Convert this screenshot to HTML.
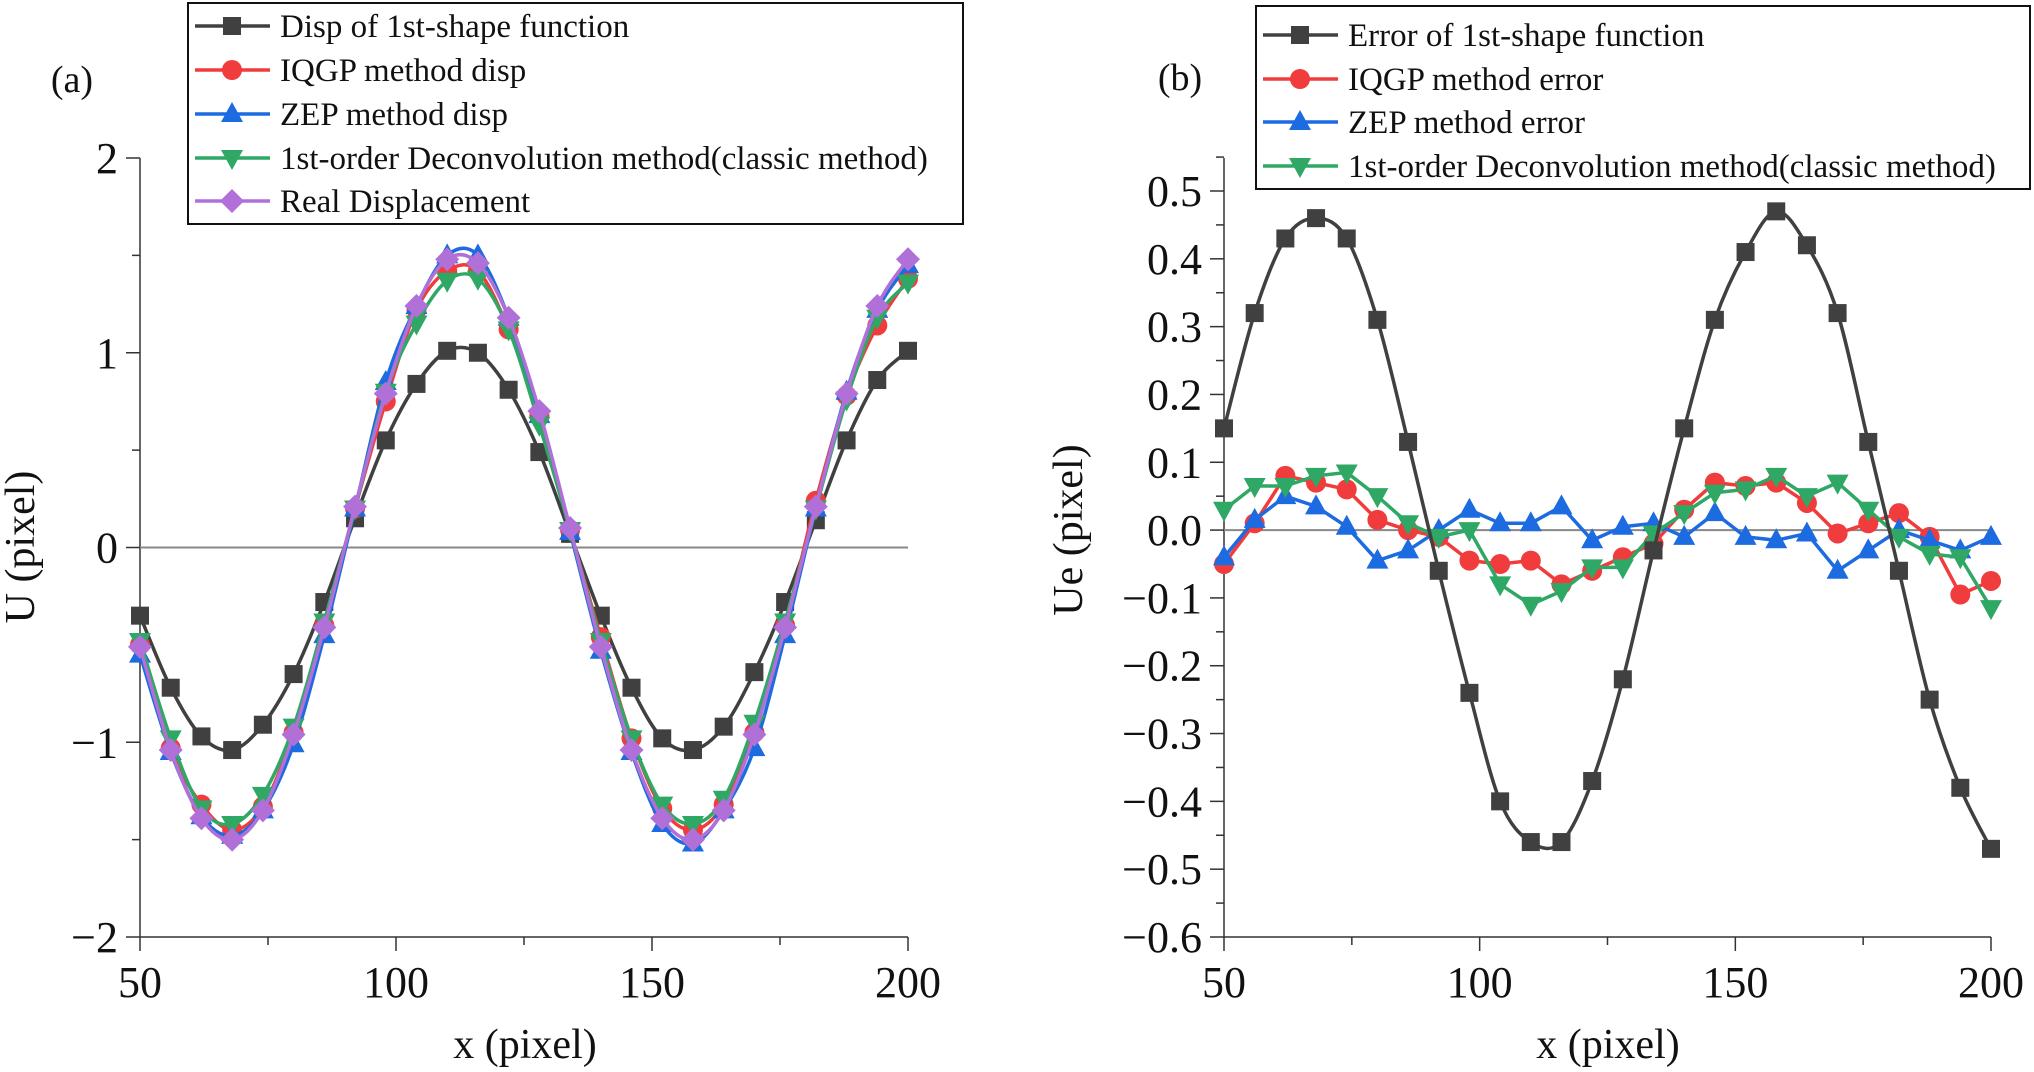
<!DOCTYPE html>
<html><head><meta charset="utf-8"><style>
html,body{margin:0;padding:0;background:#fff;}
svg{display:block;font-family:"Liberation Serif",serif;}
text{font-family:"Liberation Serif",serif;}
</style></head><body>
<svg id="chart" width="2034" height="1072" viewBox="0 0 2034 1072" xmlns="http://www.w3.org/2000/svg"></svg>
<script>
const xs = [50,56,62,68,74,80,86,92,98,104,110,116,122,128,134,140,146,152,158,164,170,176,182,188,194,200];
// Panel (a)
const dispShape = [-0.35,-0.72,-0.97,-1.04,-0.91,-0.65,-0.28,0.15,0.55,0.84,1.01,1.00,0.81,0.49,0.07,-0.35,-0.72,-0.98,-1.04,-0.92,-0.64,-0.28,0.14,0.55,0.86,1.01];
const dispIQGP = [-0.50,-1.03,-1.32,-1.45,-1.33,-0.95,-0.40,0.20,0.75,1.22,1.42,1.42,1.12,0.68,0.09,-0.46,-0.98,-1.34,-1.45,-1.32,-0.95,-0.40,0.24,0.78,1.14,1.38];
const dispZEP = [-0.55,-1.05,-1.38,-1.48,-1.35,-1.01,-0.45,0.20,0.85,1.24,1.50,1.50,1.18,0.68,0.08,-0.53,-1.05,-1.42,-1.52,-1.35,-1.03,-0.45,0.20,0.80,1.22,1.45];
const dispDeconv = [-0.48,-0.98,-1.34,-1.42,-1.27,-0.92,-0.38,0.20,0.80,1.15,1.37,1.38,1.12,0.63,0.09,-0.48,-0.98,-1.32,-1.42,-1.29,-0.90,-0.38,0.20,0.76,1.18,1.36];
const dispReal = [-0.51,-1.04,-1.39,-1.50,-1.35,-0.96,-0.41,0.21,0.79,1.24,1.48,1.46,1.18,0.70,0.10,-0.51,-1.04,-1.39,-1.50,-1.35,-0.96,-0.41,0.21,0.79,1.24,1.48];
// Panel (b)
const errShape = [0.15,0.32,0.43,0.46,0.43,0.31,0.13,-0.06,-0.24,-0.40,-0.46,-0.46,-0.37,-0.22,-0.03,0.15,0.31,0.41,0.47,0.42,0.32,0.13,-0.06,-0.25,-0.38,-0.47];
const errIQGP = [-0.05,0.01,0.08,0.07,0.06,0.015,0.0,-0.01,-0.045,-0.05,-0.045,-0.08,-0.06,-0.04,-0.02,0.03,0.07,0.065,0.07,0.04,-0.005,0.01,0.025,-0.01,-0.095,-0.075];
const errZEP = [-0.04,0.015,0.05,0.035,0.005,-0.045,-0.03,0.0,0.03,0.01,0.01,0.035,-0.015,0.005,0.01,-0.01,0.025,-0.01,-0.015,-0.005,-0.06,-0.03,0.0,-0.015,-0.03,-0.01];
const errDeconv = [0.03,0.065,0.065,0.08,0.085,0.05,0.01,-0.01,0.0,-0.08,-0.11,-0.09,-0.055,-0.055,-0.005,0.025,0.055,0.06,0.08,0.05,0.07,0.03,-0.01,-0.035,-0.04,-0.115];
const xTicks = [50,100,150,200];
const yTicksA = [-2,-1,0,1,2];
const yTicksB = [0.5,0.4,0.3,0.2,0.1,0.0,-0.1,-0.2,-0.3,-0.4,-0.5,-0.6];
const yTickLabelsB = ["0.5","0.4","0.3","0.2","0.1","0.0","\u22120.1","\u22120.2","\u22120.3","\u22120.4","\u22120.5","\u22120.6"];

const C = {k:'#404040',r:'#f03c3c',b:'#1c6be0',g:'#2fa865',p:'#b070d8'};
const FF = '"Liberation Serif", serif';
const svg = document.getElementById('chart');
const NS = 'http://www.w3.org/2000/svg';
function el(tag, attrs, parent){const e=document.createElementNS(NS,tag);for(const k in attrs)e.setAttribute(k,attrs[k]);if(tag==='text')e.setAttribute('font-family',FF);(parent||svg).appendChild(e);return e;}
function lin(d0,d1,r0,r1){return v=>r0+(v-d0)*(r1-r0)/(d1-d0);}
function smooth(pts){let d='M'+pts[0][0]+','+pts[0][1];for(let i=0;i<pts.length-1;i++){const p0=pts[Math.max(0,i-1)],p1=pts[i],p2=pts[i+1],p3=pts[Math.min(pts.length-1,i+2)];const c1=[p1[0]+(p2[0]-p0[0])/6,p1[1]+(p2[1]-p0[1])/6],c2=[p2[0]-(p3[0]-p1[0])/6,p2[1]-(p3[1]-p1[1])/6];d+=' C'+c1+' '+c2+' '+p2;}return d;}
function marker(g,type,x,y,col){
  let m;
  if(type==='sq') m=el('rect',{x:x-9,y:y-9,width:18,height:18,fill:col},g);
  else if(type==='ci') m=el('circle',{cx:x,cy:y,r:10,fill:col},g);
  else if(type==='up') m=el('polygon',{points:`${x},${y-12} ${x+11},${y+8} ${x-11},${y+8}`,fill:col},g);
  else if(type==='dn') m=el('polygon',{points:`${x},${y+12} ${x+11},${y-8} ${x-11},${y-8}`,fill:col},g);
  else m=el('polygon',{points:`${x},${y-12} ${x+12},${y} ${x},${y+12} ${x-12},${y}`,fill:col},g);
  
  
  return m;
}
function series(name,X,Y,vals,col,type,sm){
  const g=el('g',{});
  
  
  const pts=xs.map((x,i)=>[X(x),Y(vals[i])]);
  const p=el('path',{d:sm?smooth(pts):'M'+pts.map(q=>q.join(',')).join(' L'),fill:'none',stroke:col,'stroke-width':3.5,'stroke-linejoin':'round'},g);
  
  
  pts.forEach(q=>marker(g,type,q[0],q[1],col));
}
function axes(X,Y,x0,x1,yTop,yBot,yt,ytl,ymin,ymax,minorStep,prefix){
  const g=el('g',{stroke:'#333','stroke-width':1.5,fill:'none'});
  
  
  el('line',{x1:x0,y1:yTop,x2:x0,y2:yBot},g);
  el('line',{x1:x0,y1:yBot,x2:x1,y2:yBot},g);
  for(let v=50;v<=200;v+=25){const big=v%50===0;el('line',{x1:X(v),y1:yBot,x2:X(v),y2:yBot+(big?14:8)},g);}
  for(let v=ymin;v<=ymax+1e-9;v+=minorStep){const big=yt.some(t=>Math.abs(t-v)<1e-6);el('line',{x1:x0,y1:Y(v),x2:x0-(big?14:8),y2:Y(v)},g);}
  xTicks.forEach(v=>{const t=el('text',{x:X(v),y:yBot+60,'font-size':44,'text-anchor':'middle',fill:'#111'});t.textContent=v;});
  yt.forEach((v,i)=>{const t=el('text',{x:x0-22,y:Y(v)+15,'font-size':44,'text-anchor':'end',fill:'#111'});t.textContent=ytl[i];});
  const z=el('line',{x1:x0,y1:Y(0),x2:x1,y2:Y(0),stroke:'#888','stroke-width':2});
  
  
}
function legend(x,y,w,h,rowY,items,prefix){
  const g=el('g',{});
  
  
  el('rect',{x:x,y:y,width:w,height:h,fill:'#fff',stroke:'#111','stroke-width':2},g);
  items.forEach((it,i)=>{
    const yy=rowY[i];
    el('line',{x1:x+7,y1:yy,x2:x+82,y2:yy,stroke:it[1],'stroke-width':3.5},g);
    marker(g,it[2],x+44,yy,it[1]);
    const t=el('text',{x:x+92,y:yy+11,'font-size':33,fill:'#111'},g);
    t.textContent=it[0];
    
    
  });
}
function txt(s,x,y,size,name,rot){const t=el('text',{x:x,y:y,'font-size':size,'text-anchor':'middle',fill:'#111'});if(rot)t.setAttribute('transform',`rotate(-90 ${x} ${y})`);t.textContent=s;}

// Panel A
const XA=lin(50,200,140,908), YA=lin(2,-2,158,937);
axes(XA,YA,140,908,158,937,yTicksA,yTicksA.map(v=>v<0?'\u2212'+(-v):String(v)),-2,2,0.5,'panel-a');
series('disp-shape',XA,YA,dispShape,C.k,'sq',true);
series('disp-iqgp',XA,YA,dispIQGP,C.r,'ci',true);
series('disp-zep',XA,YA,dispZEP,C.b,'up',true);
series('disp-deconv',XA,YA,dispDeconv,C.g,'dn',true);
series('disp-real',XA,YA,dispReal,C.p,'di',true);
legend(188,3,775,221,[26,70,114,158,201],[['Disp of 1st-shape function',C.k,'sq'],['IQGP method disp',C.r,'ci'],['ZEP method disp',C.b,'up'],['1st-order Deconvolution method(classic method)',C.g,'dn'],['Real Displacement',C.p,'di']],'panel-a');
txt('(a)',72,92,38,'panel-a-label');
txt('x (pixel)',525,1058,42,'x-axis-title-a');
txt('U (pixel)',34,547,42,'y-axis-title-a',true);

// Panel B
const XB=lin(50,200,1224,1991), YB=lin(0.5,-0.6,191,937);
axes(XB,YB,1224,1991,158,937,yTicksB,yTickLabelsB,-0.6,0.55,0.05,'panel-b');
series('err-iqgp',XB,YB,errIQGP,C.r,'ci',false);
series('err-zep',XB,YB,errZEP,C.b,'up',false);
series('err-deconv',XB,YB,errDeconv,C.g,'dn',false);
series('err-shape',XB,YB,errShape,C.k,'sq',true);
legend(1256,6,774,183,[35,79,122,166],[['Error of 1st-shape function',C.k,'sq'],['IQGP method error',C.r,'ci'],['ZEP method error',C.b,'up'],['1st-order Deconvolution method(classic method)',C.g,'dn']],'panel-b');
txt('(b)',1180,90,38,'panel-b-label');
txt('x (pixel)',1608,1058,42,'x-axis-title-b');
txt('Ue (pixel)',1082,530,42,'y-axis-title-b',true);
</script>
</body></html>
